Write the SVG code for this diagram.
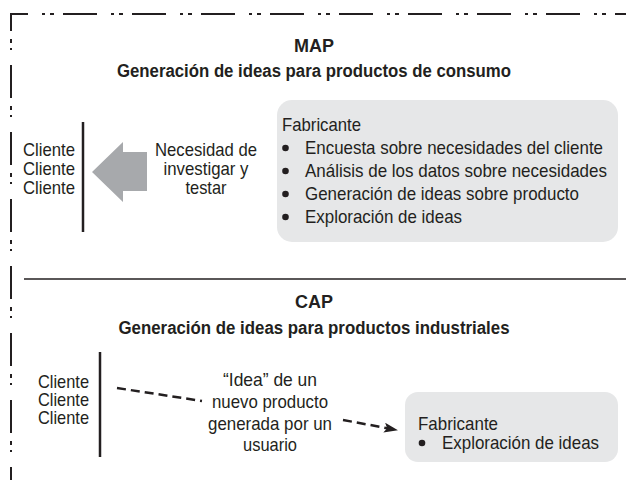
<svg xmlns="http://www.w3.org/2000/svg" width="626" height="480" viewBox="0 0 626 480">
<style>
text{font-family:"Liberation Sans",Arial,sans-serif;font-size:18.5px;fill:#231f20}
.t{font-weight:bold;text-anchor:middle;font-size:18px}
.c{text-anchor:middle}
.box{fill:#e6e7e8}
.bar{stroke:#231f20;stroke-width:2.5;fill:none}
.dash{stroke:#231f20;stroke-width:2.5;fill:none;stroke-dasharray:9 5}
</style>
<defs>
<marker id="ah" viewBox="0 0 14 10" refX="13" refY="5" markerWidth="14" markerHeight="10" markerUnits="userSpaceOnUse" orient="auto">
<path d="M0,0 L14,5 L0,10 L3,5 Z" fill="#231f20"/>
</marker>
</defs>
<rect width="626" height="480" fill="#fff"/>
<g id="frame">
<path d="M10,14 H626" stroke="#231f20" stroke-width="2" fill="none" stroke-dasharray="34 14 3 5 4 9" stroke-dashoffset="16"/>
<path d="M11,14 V480" stroke="#231f20" stroke-width="2" fill="none" stroke-dasharray="33 8 4 5 2 15" stroke-dashoffset="16"/>
<line x1="24" y1="279" x2="626" y2="279" stroke="#231f20" stroke-width="1.5"/>
</g>
<g id="map-title">
<text class="t" x="314" y="52" font-size="19">MAP</text>
<text class="t" x="314" y="77" textLength="394" lengthAdjust="spacingAndGlyphs">Generación de ideas para productos de consumo</text>
</g>
<g id="map-clientes">
<text x="23" y="156" textLength="52" lengthAdjust="spacingAndGlyphs">Cliente</text>
<text x="23" y="175" textLength="52" lengthAdjust="spacingAndGlyphs">Cliente</text>
<text x="23" y="194" textLength="52" lengthAdjust="spacingAndGlyphs">Cliente</text>
<line class="bar" x1="83" y1="122" x2="83" y2="232"/>
</g>
<g id="map-necesidad">
<text class="c" x="206" y="156" textLength="102" lengthAdjust="spacingAndGlyphs">Necesidad de</text>
<text class="c" x="206" y="175" textLength="85" lengthAdjust="spacingAndGlyphs">investigar y</text>
<text class="c" x="206" y="194" textLength="41" lengthAdjust="spacingAndGlyphs">testar</text>
</g>
<g id="map-fabricante">
<rect class="box" x="277" y="100" width="341" height="142" rx="15"/>
<text x="282" y="131" textLength="79" lengthAdjust="spacingAndGlyphs">Fabricante</text>
<circle cx="285.5" cy="148" r="3.3" fill="#231f20"/>
<text x="305" y="154" textLength="298" lengthAdjust="spacingAndGlyphs">Encuesta sobre necesidades del cliente</text>
<circle cx="285.5" cy="171" r="3.3" fill="#231f20"/>
<text x="305" y="177" textLength="302" lengthAdjust="spacingAndGlyphs">Análisis de los datos sobre necesidades</text>
<circle cx="285.5" cy="194" r="3.3" fill="#231f20"/>
<text x="305" y="200" textLength="274" lengthAdjust="spacingAndGlyphs">Generación de ideas sobre producto</text>
<circle cx="285.5" cy="217" r="3.3" fill="#231f20"/>
<text x="305" y="223" textLength="157" lengthAdjust="spacingAndGlyphs">Exploración de ideas</text>
</g>
<g id="cap-title">
<text class="t" x="314" y="308" font-size="19">CAP</text>
<text class="t" x="314" y="334" textLength="391" lengthAdjust="spacingAndGlyphs">Generación de ideas para productos industriales</text>
</g>
<g id="cap-clientes">
<text x="38" y="388" textLength="51" lengthAdjust="spacingAndGlyphs">Cliente</text>
<text x="38" y="406" textLength="51" lengthAdjust="spacingAndGlyphs">Cliente</text>
<text x="38" y="424" textLength="51" lengthAdjust="spacingAndGlyphs">Cliente</text>
<line class="bar" x1="100" y1="352" x2="100" y2="457"/>
</g>
<g id="cap-idea">
<text class="c" x="270" y="386" textLength="94" lengthAdjust="spacingAndGlyphs">“Idea” de un</text>
<text class="c" x="270" y="407.5" textLength="116" lengthAdjust="spacingAndGlyphs">nuevo producto</text>
<text class="c" x="270" y="429.5" textLength="124" lengthAdjust="spacingAndGlyphs">generada por un</text>
<text class="c" x="270" y="451" textLength="54" lengthAdjust="spacingAndGlyphs">usuario</text>
</g>
<g id="cap-fabricante">
<rect class="box" x="405" y="392" width="213" height="70" rx="13"/>
<text x="418" y="430" textLength="80" lengthAdjust="spacingAndGlyphs">Fabricante</text>
<circle cx="422" cy="443" r="3.3" fill="#231f20"/>
<text x="442" y="449" textLength="157" lengthAdjust="spacingAndGlyphs">Exploración de ideas</text>
</g>
<g id="connectors">
<polygon points="92,172 123,142 123,152 147,152 147,191 123,191 123,202" fill="#a7a9ac"/>
<path class="dash" d="M117,388 L202,401"/>
<path class="dash" d="M343,420 L397,430" marker-end="url(#ah)"/>
</g>
</svg>
